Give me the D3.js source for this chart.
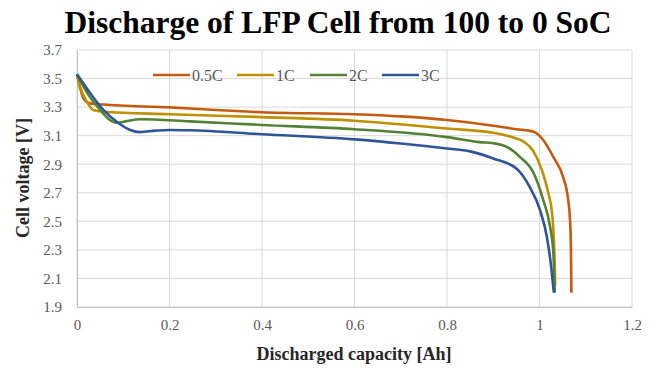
<!DOCTYPE html>
<html>
<head>
<meta charset="utf-8">
<script src="https://cdn.jsdelivr.net/npm/d3@7"></script>
<style>
  body { margin: 0; background: #fff; }
  svg text { font-family: "Liberation Serif", "Times New Roman", serif; }
</style>
</head>
<body>
<div id="chart"></div>
<script>
// discharge curves, [capacity Ah, voltage V]
var rate05C = [[0,3.53],[0.007,3.43],[0.014,3.36],[0.028,3.326],[0.057,3.318],[0.2,3.298],[0.3,3.28],[0.4,3.264],
  [0.6,3.25],[0.7,3.235],[0.8,3.21],[0.9,3.17],[0.95,3.145],[0.987,3.128],[1.008,3.07],[1.03,2.95],
  [1.051,2.81],[1.062,2.65],[1.066,2.51],[1.068,2.3],[1.069,2.0]];
var rate1C = [[0,3.53],[0.007,3.44],[0.021,3.34],[0.035,3.28],[0.057,3.268],[0.2,3.25],[0.4,3.23],[0.6,3.205],
  [0.8,3.15],[0.9,3.12],[0.94,3.09],[0.965,3.06],[0.987,2.99],[1.005,2.86],[1.019,2.70],[1.028,2.53],
  [1.032,2.30],[1.034,2.05]];
var rate2C = [[0,3.53],[0.028,3.37],[0.05,3.28],[0.071,3.21],[0.086,3.19],[0.105,3.2],[0.136,3.215],[0.244,3.2],
  [0.4,3.175],[0.6,3.145],[0.8,3.09],[0.87,3.055],[0.9,3.047],[0.93,3.02],[0.958,2.95],[0.987,2.84],
  [1.008,2.65],[1.023,2.46],[1.03,2.28],[1.033,2.0]];
var rate3C = [[0,3.53],[0.028,3.40],[0.057,3.28],[0.093,3.18],[0.115,3.14],[0.136,3.125],[0.17,3.135],[0.2,3.14],
  [0.244,3.138],[0.4,3.11],[0.6,3.074],[0.7,3.045],[0.8,3.01],[0.85,2.99],[0.9,2.94],[0.95,2.87],
  [0.979,2.74],[1.001,2.58],[1.016,2.39],[1.026,2.16],[1.031,2.0]];

var seriesNames = ["0.5C", "1C", "2C", "3C"];
var seriesData = [rate05C, rate1C, rate2C, rate3C];
var colors = ["#C55A11", "#BF9000", "#538135", "#2F5597"];

var xTicks = [0, 0.2, 0.4, 0.6, 0.8, 1, 1.2];
var yTicks = [1.9, 2.1, 2.3, 2.5, 2.7, 2.9, 3.1, 3.3, 3.5, 3.7];

var serif = "'Liberation Serif', 'Times New Roman', serif";
var width = 656, height = 368;
var margin = {top: 50, right: 24, bottom: 61, left: 77};

var svg = d3.select("#chart").append("svg")
    .attr("width", width)
    .attr("height", height)
    .attr("font-family", serif);

var x = d3.scaleLinear().domain([0, 1.2]).range([margin.left, width - margin.right]);
var y = d3.scaleLinear().domain([1.9, 3.7]).range([height - margin.bottom, margin.top]);

//gridlines
svg.append("g").selectAll("line.hgrid")
    .data(yTicks)
    .enter().append("line")
    .attr("x1", x(0)).attr("x2", x(1.2))
    .attr("y1", d => y(d)).attr("y2", d => y(d))
    .style("stroke", "#D9D9D9").style("stroke-width", 1);

svg.append("g").selectAll("line.vgrid")
    .data(xTicks)
    .enter().append("line")
    .attr("x1", d => x(d)).attr("x2", d => x(d))
    .attr("y1", y(3.7)).attr("y2", y(1.9))
    .style("stroke", "#D9D9D9").style("stroke-width", 1);

// axes, tick labels only
var xAxis = svg.append("g")
    .attr("transform", "translate(0," + y(1.9) + ")")
    .call(d3.axisBottom(x).tickValues(xTicks).tickSize(0).tickPadding(12).tickFormat(d3.format("")));
var yAxis = svg.append("g")
    .attr("transform", "translate(" + x(0) + ",0)")
    .call(d3.axisLeft(y).tickValues(yTicks).tickSize(0).tickPadding(15).tickFormat(d3.format(".1f")));

[xAxis, yAxis].forEach(function(a){
    a.attr("font-family", serif).attr("font-size", 15);
    a.select(".domain").style("stroke", "#BFBFBF");
    a.selectAll("text")
        .attr("font-family", serif)
        .style("font-family", serif)
        .style("font-size", "15px")
        .style("fill", "#595959");
});

//lines
var line = d3.line()
    .x(d => x(d[0]))
    .y(d => y(d[1]))
    .curve(d3.curveMonotoneX);

svg.append("g").selectAll("path.series")
    .data(seriesData)
    .enter().append("path")
    .attr("class", "series")
    .attr("d", line)
    .style("fill", "none")
    .style("stroke", (d, i) => colors[i])
    .style("stroke-width", 2.6)
    .style("stroke-linejoin", "round");

//legend
var legendX = [153, 237, 310, 382];
var legend = svg.append("g").selectAll("g.legend")
    .data(seriesNames)
    .enter().append("g")
    .attr("transform", (d, i) => "translate(" + legendX[i] + ",75)");
legend.append("line")
    .attr("x1", 0).attr("x2", 37)
    .style("stroke", (d, i) => colors[i])
    .style("stroke-width", 2.6);
legend.append("text")
    .attr("x", 39).attr("y", 5.5)
    .style("font-size", "16px")
    .style("fill", "#595959")
    .text(d => d);

//titles
svg.append("text")
    .attr("x", 338).attr("y", 33)
    .attr("text-anchor", "middle")
    .style("font-size", "31.5px")
    .style("font-weight", "bold")
    .style("fill", "#000")
    .text("Discharge of  LFP Cell from 100 to 0 SoC");

svg.append("text")
    .attr("x", 354).attr("y", 360)
    .attr("text-anchor", "middle")
    .style("font-size", "18px")
    .style("font-weight", "bold")
    .style("fill", "#262626")
    .text("Discharged capacity [Ah]");

svg.append("text")
    .attr("transform", "translate(29,178) rotate(-90)")
    .attr("text-anchor", "middle")
    .style("font-size", "18px")
    .style("font-weight", "bold")
    .style("fill", "#262626")
    .text("Cell voltage [V]");
</script>
</body>
</html>
